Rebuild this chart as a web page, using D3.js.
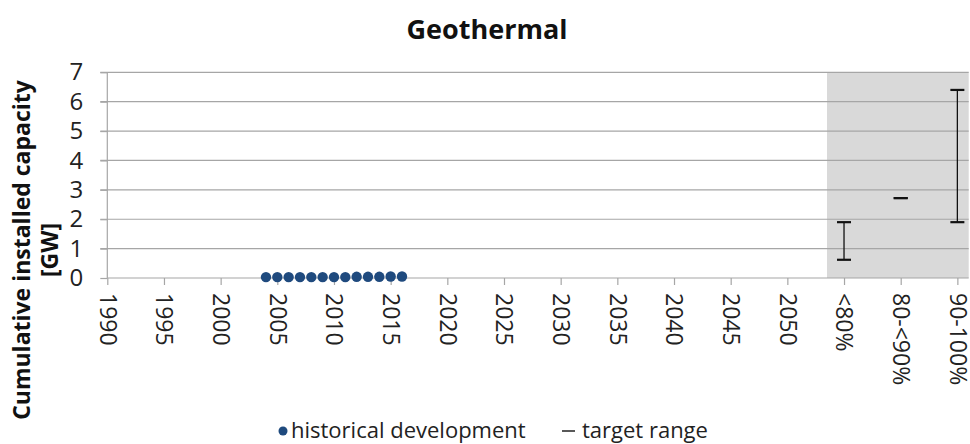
<!DOCTYPE html>
<html>
<head>
<meta charset="utf-8">
<script src="https://cdn.jsdelivr.net/npm/d3@7"></script>
<style>
  body { margin: 0; background: #fff; }
  svg { font-family: "Open Sans", "Noto Sans", sans-serif; }
</style>
</head>
<body>
<svg id="vis" width="970" height="444"></svg>
<script>
var vis = d3.select("#vis");

// historical development, one point per year
var histYears = [2004, 2005, 2006, 2007, 2008, 2009, 2010, 2011, 2012, 2013, 2014, 2015, 2016];
var histValues = [0.03, 0.03, 0.03, 0.03, 0.03, 0.03, 0.03, 0.03, 0.04, 0.04, 0.04, 0.05, 0.05];

// target ranges per share category
var targetCats = ["<80%", "80-<90%", "90-100%"];
var targetLow = [0.62, 2.72, 1.9];
var targetHigh = [1.9, 2.72, 6.4];

var yearTicks = d3.range(1990, 2051, 5);
var yTicks = [0, 1, 2, 3, 4, 5, 6, 7];

// category axis: years, then the three target categories
var catPos = targetCats.map((c, i) => 2055 + i * 5);

var x = d3.scaleLinear().domain([1990, 2066]).range([107.3, 968.7]);
var y = d3.scaleLinear().domain([0, 7]).range([278, 72.3]);

// grey target area
vis.append("rect")
    .attr("x", x(2053.5))
    .attr("y", y(7))
    .attr("width", x(2066) - x(2053.5))
    .attr("height", y(0) - y(7))
    .attr("fill", "#d9d9d9");

// gridlines
vis.append("g")
    .selectAll("line")
    .data(yTicks.slice(1))
    .join("line")
    .attr("x1", x(1990) - 7)
    .attr("x2", x(2066))
    .attr("y1", d => y(d))
    .attr("y2", d => y(d))
    .attr("stroke", "#a6a6a6")
    .attr("stroke-width", 1.2);

// y axis
var yAxis = vis.append("g")
    .attr("transform", `translate(${x(1990)},0)`)
    .call(d3.axisLeft(y).tickValues(yTicks).tickSize(7).tickPadding(17).tickFormat(d3.format("d")));
yAxis.selectAll("line, path").attr("stroke", "#a6a6a6").attr("stroke-width", 1.2);
yAxis.select(".domain").attr("d", `M0,${y(0)}V${y(7)}`);
yAxis.selectAll("text")
    .attr("font-size", "24px")
    .attr("fill", "#222")
    .attr("font-family", "Open Sans, sans-serif");

// x axis
var xAxis = vis.append("g")
    .attr("transform", `translate(0,${y(0)})`)
    .call(d3.axisBottom(x).tickValues(yearTicks.concat(catPos)).tickSize(7)
        .tickFormat(d => d > 2050 ? targetCats[catPos.indexOf(d)] : d));
xAxis.selectAll("line, path").attr("stroke", "#a6a6a6").attr("stroke-width", 1.2);
xAxis.select(".domain").attr("d", `M${x(1990)},0H${x(2066)}`);
xAxis.selectAll("text")
    .attr("font-size", "23px")
    .attr("fill", "#222")
    .attr("font-family", "Open Sans, sans-serif")
    .attr("text-anchor", "start")
    .attr("dy", "0.35em")
    .attr("transform", "rotate(90)")
    .attr("x", 15)
    .attr("y", 0);

// target range error bars
var bars = vis.append("g").selectAll("g")
    .data(targetCats.map((c, i) => ({ Pos: catPos[i], Low: targetLow[i], High: targetHigh[i] })))
    .join("g");
bars.append("line")
    .attr("x1", d => x(d.Pos)).attr("x2", d => x(d.Pos))
    .attr("y1", d => y(d.Low)).attr("y2", d => y(d.High))
    .attr("stroke", "#111").attr("stroke-width", 1.3);
bars.append("line")
    .attr("x1", d => x(d.Pos) - 7).attr("x2", d => x(d.Pos) + 7)
    .attr("y1", d => y(d.Low)).attr("y2", d => y(d.Low))
    .attr("stroke", "#111").attr("stroke-width", 2.2);
bars.append("line")
    .attr("x1", d => x(d.Pos) - 7).attr("x2", d => x(d.Pos) + 7)
    .attr("y1", d => y(d.High)).attr("y2", d => y(d.High))
    .attr("stroke", "#111").attr("stroke-width", 2.2);

// historical dots
vis.append("g").selectAll("circle")
    .data(histYears.map((yr, i) => ({ Year: yr, Value: histValues[i] })))
    .join("circle")
    .attr("cx", d => x(d.Year))
    .attr("cy", d => y(d.Value))
    .attr("r", 5.2)
    .attr("fill", "#1f4a7e");

// title
vis.append("text")
    .attr("x", 487).attr("y", 39)
    .attr("text-anchor", "middle")
    .attr("font-size", "27px")
    .attr("font-weight", "bold")
    .attr("fill", "#111")
    .text("Geothermal");

// y title (sits low, next to the lower half of the axis)
var yt = vis.append("text")
    .attr("transform", "translate(0,250) rotate(-90)")
    .attr("text-anchor", "middle")
    .attr("font-size", "23px")
    .attr("font-weight", "bold")
    .attr("fill", "#111");
yt.append("tspan").attr("x", 0).attr("y", 30).text("Cumulative installed capacity");
yt.append("tspan").attr("x", 0).attr("y", 58).text("[GW]");

// legend
var leg = vis.append("g").attr("font-size", "22px").attr("fill", "#222");
leg.append("circle").attr("cx", 283).attr("cy", 431).attr("r", 4.5).attr("fill", "#1f4a7e");
leg.append("text").attr("x", 291).attr("y", 438).text("historical development");
leg.append("line").attr("x1", 562).attr("x2", 575).attr("y1", 431).attr("y2", 431)
    .attr("stroke", "#222").attr("stroke-width", 1.5);
leg.append("text").attr("x", 582).attr("y", 438).text("target range");
</script>
</body>
</html>
